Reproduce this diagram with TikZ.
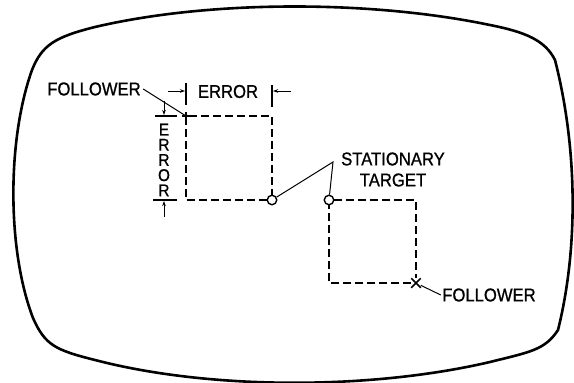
\documentclass[tikz,border=0pt]{standalone}
\usepackage{fontspec}
\setmainfont{Liberation Sans}
\newfontfamily\lblfont{Liberation Sans}[FakeStretch=0.9, FakeBold=0.9]
\usetikzlibrary{arrows.meta,shapes.misc}

\begin{document}
\begin{tikzpicture}[x=1pt, y=-1pt, line width=1pt,
    >={Stealth[length=5pt,width=3.5pt]},
    lbl/.style={inner sep=0pt, font=\lblfont\fontsize{18.5}{21}\selectfont},
    trace/.style={line width=1.4pt, dash pattern=on 8pt off 4pt},
    target/.style={circle, draw, line width=1.4pt, fill=white, minimum size=9.5pt, inner sep=0pt},
    follower/.style={cross out, draw, line width=1.5pt, minimum size=8pt, inner sep=0pt}]
  \useasboundingbox (0,0) rectangle (574,383);
  % screen face
  \draw[line width=2.6pt]
    (95,27) .. controls (210,0) and (370,0) .. (490,25)
    .. controls (525,32) and (545,40) .. (555,60)
    .. controls (578,150) and (578,250) .. (558,330)
    .. controls (545,350) and (530,352) .. (490,362)
    .. controls (370,390) and (210,390) .. (95,360)
    .. controls (55,350) and (45,345) .. (33,318)
    .. controls (7,250) and (7,140) .. (32,70)
    .. controls (42,45) and (55,37) .. (95,27) -- cycle;

  % first trace: follower lags up and left
  \coordinate (f1) at (186,116);
  \coordinate (r1) at (272,116);
  \coordinate (b1) at (186,200);
  \node[target] (t1) at (272,200) {};
  \draw[trace] (t1.west) -- (b1) -- (f1) -- (r1) -- (t1.north);
  \draw[line width=1.4pt] (f1) ++(-4,0) -- ++(8,0) (f1) ++(0,-4) -- ++(0,8);

  % second trace: follower lags down and right
  \node[target] (t2) at (329,200) {};
  \coordinate (r2) at (416,200);
  \coordinate (b2) at (329,283);
  \node[follower] (f2) at (416,283) {};
  \draw[trace] (t2.east) -- (r2) -- (f2) -- (b2) -- (t2.south);

  % labels
  \node[lbl] (fol1) at (94,89) {FOLLOWER};
  \node[lbl] (errh) at (228,91.5) {ERROR};
  \node[lbl, align=center, font=\lblfont\fontsize{17}{15.2}\selectfont] (errv) at (164,160) {E\\R\\R\\O\\R};
  \node[lbl, align=center] (stat) at (393,169.5) {STATIONARY\\TARGET};
  \node[lbl] (fol2) at (489,295) {FOLLOWER};

  % leaders
  \coordinate (sj) at (333,162);
  \draw ([xshift=2pt]fol1.east) -- (f1);
  \draw (t1) -- (sj) -- (t2);
  \draw (f2) -- ([xshift=-1pt]fol2.west);

  % error dimensions
  \draw[line width=1.2pt] (186,83) -- (186,105) (272,85) -- (272,107);
  \draw[line width=1.2pt] (155,116) -- (177,116) (153,200) -- (177,200);
  \coordinate (ha) at (168,91);
  \coordinate (hb) at (185,91);
  \coordinate (hc) at (291,91);
  \coordinate (hd) at (273,91);
  \coordinate (va) at (164,101);
  \coordinate (vb) at (164,115);
  \coordinate (vc) at (164,217);
  \coordinate (vd) at (164,201);
  \draw[->] (ha) -- (hb);
  \draw[->] (hc) -- (hd);
  \draw[->] (va) -- (vb);
  \draw[->] (vc) -- (vd);
\end{tikzpicture}
\end{document}
